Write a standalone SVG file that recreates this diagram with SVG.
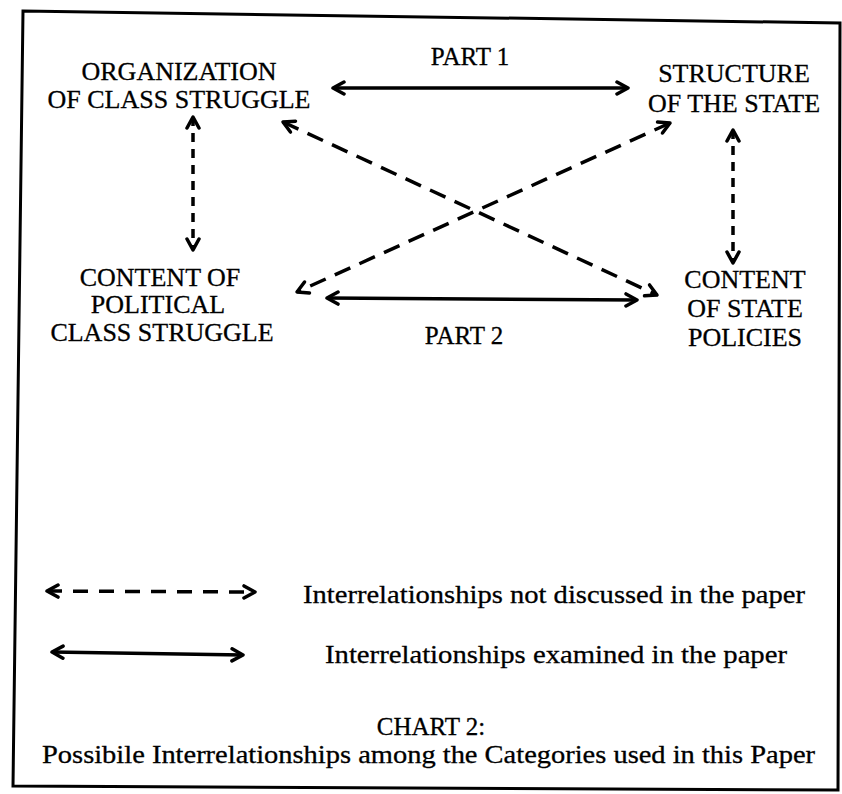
<svg xmlns="http://www.w3.org/2000/svg" width="842" height="794" viewBox="0 0 842 794">
<defs>
<marker id="ah" viewBox="0 0 16 16" refX="13.5" refY="8" markerWidth="16" markerHeight="16" markerUnits="userSpaceOnUse" orient="auto-start-reverse">
<path d="M2.5,2 L13.5,8 L2.5,14" fill="none" stroke="#000" stroke-width="3.5" stroke-linecap="round" stroke-linejoin="round"/>
</marker>
</defs>
<style>
.n{font-size:26px;text-anchor:middle;}
.p{font-size:25px;text-anchor:middle;}
.l{font-size:26px;}
.c{font-size:25px;}
.solid{fill:none;stroke:#000;stroke-width:3.5;marker-start:url(#ah);marker-end:url(#ah);}
.dash{fill:none;stroke:#000;stroke-width:3.5;stroke-dasharray:17 10;marker-start:url(#ah);marker-end:url(#ah);}
.vdash{fill:none;stroke:#000;stroke-width:3.5;stroke-dasharray:9 7;marker-start:url(#ah);marker-end:url(#ah);}
.ldash{fill:none;stroke:#000;stroke-width:3.5;stroke-dasharray:15 11;marker-start:url(#ah);marker-end:url(#ah);}
</style>
<rect width="842" height="794" fill="#fff"/>
<path d="M23,11 L840,23 L838,790 L13,786 Z" fill="none" stroke="#000" stroke-width="3"/>
<g id="connectors">
<line class="solid" x1="333" y1="88" x2="628" y2="88"/>
<line class="solid" x1="327" y1="298" x2="637" y2="300"/>
<line class="vdash" x1="193" y1="117" x2="193" y2="250"/>
<line class="vdash" x1="733" y1="130" x2="733" y2="263"/>
<line class="dash" x1="283" y1="122" x2="657" y2="295"/>
<line class="dash" x1="670" y1="123" x2="297" y2="292"/>
</g>
<g font-family="'Liberation Serif', 'Times New Roman', 'DejaVu Serif', serif" fill="#000" stroke="#000" stroke-width="0.3">
<g id="n-org">
<text class="n" x="179" y="80">ORGANIZATION</text>
<text class="n" x="179" y="108">OF CLASS STRUGGLE</text>
</g>
<g id="n-struct">
<text class="n" x="734" y="82">STRUCTURE</text>
<text class="n" x="734" y="112">OF THE STATE</text>
</g>
<g id="n-cpcs">
<text class="n" x="160" y="286">CONTENT OF</text>
<text class="n" x="158" y="313">POLITICAL</text>
<text class="n" x="162" y="341">CLASS STRUGGLE</text>
</g>
<g id="n-csp">
<text class="n" x="745" y="288">CONTENT</text>
<text class="n" x="745" y="317">OF STATE</text>
<text class="n" x="745" y="346">POLICIES</text>
</g>
<g id="labels">
<text class="p" x="470" y="65">PART 1</text>
<text class="p" x="464" y="344">PART 2</text>
</g>
<g id="legend">
<line class="ldash" x1="47" y1="591" x2="255" y2="592" stroke-width="3.5"/>
<line class="solid" x1="52" y1="652" x2="243" y2="655" stroke-width="3.5"/>
<text class="l" x="303" y="603" textLength="502" lengthAdjust="spacingAndGlyphs">Interrelationships not discussed in the paper</text>
<text class="l" x="325" y="663" textLength="462" lengthAdjust="spacingAndGlyphs">Interrelationships examined in the paper</text>
<text class="c" x="431" y="735" text-anchor="middle">CHART 2:</text>
<text class="c" x="42" y="763" textLength="773" lengthAdjust="spacingAndGlyphs">Possibile Interrelationships among the Categories used in this Paper</text>
</g>
</g>
</svg>
